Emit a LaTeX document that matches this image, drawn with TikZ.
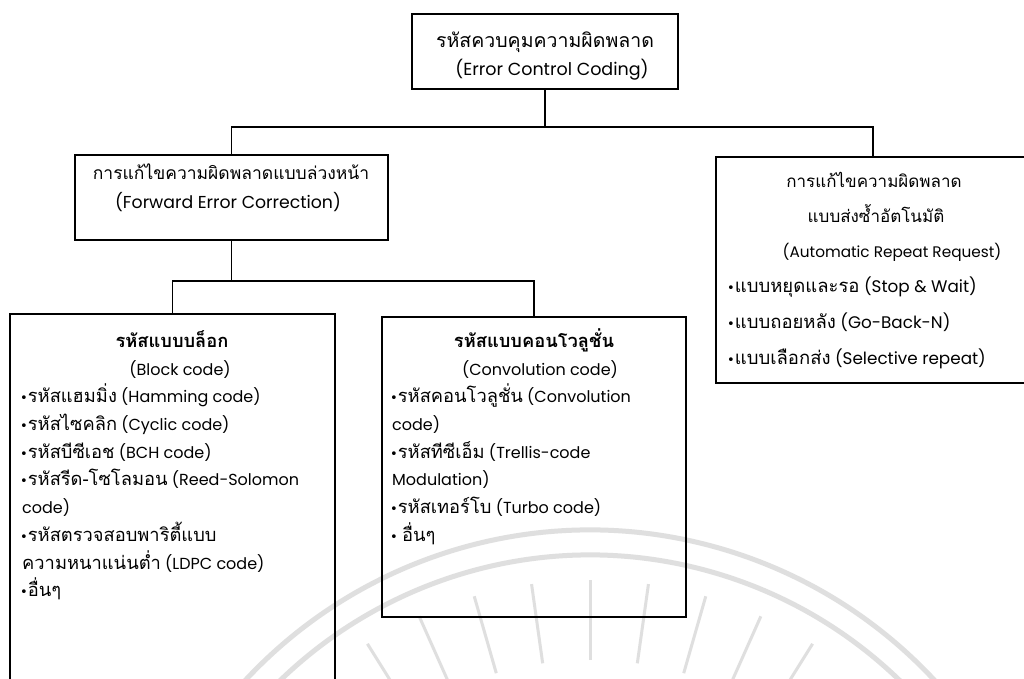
\documentclass[tikz,border=0pt]{standalone}
\usepackage{fontspec}
\usetikzlibrary{calc}
\setmainfont{Poppins}
\newfontfamily\thaifont[Script=Thai]{Loma}
\newfontfamily\symfont{DejaVu Sans}
\def\thsz{19}
\newcommand{\tha}[1]{{\thaifont\fontsize{\thsz}{22}\selectfont #1}}
\newcommand{\bul}{{\symfont\fontsize{13}{14}\selectfont •}}
\begin{document}
\begin{tikzpicture}[x=1pt,y=-1pt,
  box/.style={draw=black, line width=1.7pt, rectangle, inner sep=0pt, outer sep=0pt, anchor=north west},
  wire/.style={draw=black, line width=1.7pt},
  lbl/.style={inner sep=0pt, anchor=mid},
  rootf/.style={lbl, font=\fontsize{17.5}{20}\selectfont\def\thsz{19.5}},
  fecf/.style={lbl, font=\fontsize{17.3}{20}\selectfont\def\thsz{17.5}},
  arqf/.style={lbl, font=\fontsize{15.3}{18}\selectfont\def\thsz{17}},
  arqitem/.style={lbl, anchor=mid west, font=\fontsize{16.8}{19}\selectfont\def\thsz{18.5}},
  leaff/.style={lbl, font=\fontsize{16}{19}\selectfont\def\thsz{18.3}},
  item/.style={leaff, anchor=mid west},
  head/.style={lbl, font=\fontsize{16}{19}\selectfont\bfseries\def\thsz{18.3}},
  seal/.style={draw=gray!25, line width=5pt}
]
\useasboundingbox (0,0) rectangle (1024,678);
\fill[white] (0,0) rectangle (1024,678);

% faint seal in the background
\coordinate (sc) at (590,1000);
\foreach \r in {470,445} {
  \draw[seal] (sc) ++(200:\r) arc[start angle=200, end angle=340, radius=\r];
}
\foreach \a in {58,66,...,122} {
  \draw[seal, line width=3pt] ($(sc)+({340*cos(\a)},{-340*sin(\a)})$) -- ($(sc)+({420*cos(\a)},{-420*sin(\a)})$);
}

% boxes
\node[box, minimum width=266, minimum height=75] (root) at (412,14) {};
\node[box, minimum width=313, minimum height=85] (fec) at (75,155) {};
\node[box, minimum width=314, minimum height=226] (arq) at (716,157) {};
\node[box, minimum width=325, minimum height=390] (blk) at (10,314) {};
\node[box, minimum width=304, minimum height=300] (conv) at (382,317) {};

% connectors
\draw[wire] (root.south) -- ++(0,38) coordinate (bus);
\draw[wire] (fec.north) -- ++(0,-28) -| (arq.north);
\draw[wire] (fec.north |- bus) -- (bus);
\draw[wire] (fec.south) -- ++(0,41) coordinate (bus2);
\draw[wire] (blk.north) -- ++(0,-33) -| (conv.north);

% root
\node[rootf] (r1) at (545,45) {\tha{รหัสควบคุมความผิดพลาด}};
\node[rootf] (r2) at (552,73) {(Error Control Coding)};

% forward error correction
\node[fecf] (f1) at (231,177) {\tha{การแก้ไขความผิดพลาดแบบล่วงหน้า}};
\node[fecf] (f2) at (228,206) {(Forward Error Correction)};

% automatic repeat request
\node[arqf] (a1) at (874,185) {\tha{การแก้ไขความผิดพลาด}};
\node[arqf] (a2) at (876,220) {\tha{แบบส่งซ้ำอัตโนมัติ}};
\node[arqf] (a3) at (892,255) {(Automatic Repeat Request)};
\node[arqitem] (a4) at (727,290) {\bul\tha{แบบหยุดและรอ} (Stop \& Wait)};
\node[arqitem] (a5) at (727,326) {\bul\tha{แบบถอยหลัง} (Go-Back-N)};
\node[arqitem] (a6) at (727,362) {\bul\tha{แบบเลือกส่ง} (Selective repeat)};

% block codes
\node[head] (b1) at (172,345) {\tha{รหัสแบบบล็อก}};
\node[leaff] (b2) at (180,373) {(Block code)};
\node[item] (b3) at (20,400) {\bul\tha{รหัสแฮมมิ่ง} (Hamming code)};
\node[item] (b4) at (20,428) {\bul\tha{รหัสไซคลิก} (Cyclic code)};
\node[item] (b5) at (20,456) {\bul\tha{รหัสบีซีเอช} (BCH code)};
\node[item] (b6) at (20,483) {\bul\tha{รหัสรีด-โซโลมอน} (Reed-Solomon};
\node[item] (b7) at (22,511) {code)};
\node[item] (b8) at (20,539) {\bul\tha{รหัสตรวจสอบพาริตี้แบบ}};
\node[item] (b9) at (22,567) {\tha{ความหนาแน่นต่ำ} (LDPC code)};
\node[item] (b10) at (20,594) {\bul\tha{อื่นๆ}};

% convolutional codes
\node[head] (c1) at (534,345) {\tha{รหัสแบบคอนโวลูชั่น}};
\node[leaff] (c2) at (540,373) {(Convolution code)};
\node[item] (c3) at (390,400) {\bul\tha{รหัสคอนโวลูชั่น} (Convolution};
\node[item] (c4) at (392,428) {code)};
\node[item] (c5) at (390,456) {\bul\tha{รหัสทีซีเอ็ม} (Trellis-code};
\node[item] (c6) at (392,483) {Modulation)};
\node[item] (c7) at (390,511) {\bul\tha{รหัสเทอร์โบ} (Turbo code)};
\node[item] (c8) at (390,539) {\bul\ \tha{อื่นๆ}};
\end{tikzpicture}
\end{document}
